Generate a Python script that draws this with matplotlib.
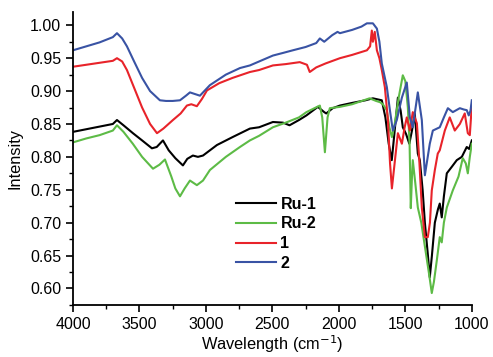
import matplotlib
matplotlib.use("Agg")
import matplotlib.pyplot as plt
from matplotlib.ticker import MultipleLocator, FormatStrFormatter

plt.rcParams['font.family'] = ['Liberation Sans', 'DejaVu Sans']

# IR spectra (wavenumber, intensity)
ru1_x = [4000, 3900, 3800, 3700, 3669, 3620, 3549, 3480, 3406, 3370, 3323, 3280, 3230,
         3173, 3140, 3098, 3060, 3022, 2917, 2800, 2669, 2600, 2496, 2420, 2371, 2300,
         2244, 2158, 2110, 2095, 2046, 1992, 1900, 1800, 1744, 1700, 1677, 1650, 1625,
         1602, 1580, 1556, 1535, 1519, 1495, 1470, 1450, 1429, 1406, 1391, 1370, 1353,
         1330, 1316, 1300, 1278, 1255, 1241, 1226, 1210, 1188, 1150, 1113, 1075, 1038,
         1020, 1000]
ru1_y = [0.838, 0.842, 0.846, 0.850, 0.856, 0.848, 0.836, 0.825, 0.813, 0.815, 0.825, 0.810, 0.798,
         0.787, 0.797, 0.802, 0.800, 0.802, 0.818, 0.830, 0.843, 0.845, 0.853, 0.852, 0.848, 0.856,
         0.863, 0.876, 0.868, 0.866, 0.874, 0.878, 0.882, 0.886, 0.889, 0.887, 0.886, 0.860, 0.820,
         0.795, 0.840, 0.890, 0.870, 0.845, 0.835, 0.820, 0.840, 0.866, 0.805, 0.795, 0.750, 0.700,
         0.650, 0.617, 0.650, 0.700, 0.720, 0.729, 0.708, 0.740, 0.775, 0.785, 0.795, 0.800, 0.815,
         0.812, 0.825]

ru2_x = [4000, 3900, 3800, 3700, 3669, 3620, 3550, 3480, 3398, 3350, 3308, 3260, 3230,
         3195, 3160, 3120, 3068, 3022, 2970, 2850, 2744, 2669, 2600, 2496, 2400, 2300,
         2244, 2143, 2125, 2105, 2085, 2068, 1992, 1900, 1769, 1720, 1689, 1669, 1640,
         1620, 1601, 1580, 1550, 1519, 1500, 1481, 1468, 1459, 1450, 1444, 1425, 1406,
         1380, 1350, 1320, 1301, 1285, 1263, 1241, 1226, 1210, 1188, 1143, 1100, 1068,
         1045, 1030, 1015, 1000]
ru2_y = [0.822, 0.828, 0.833, 0.840, 0.848, 0.838, 0.820, 0.800, 0.782, 0.788, 0.796, 0.770, 0.752,
         0.740, 0.752, 0.764, 0.757, 0.764, 0.780, 0.800, 0.815, 0.825, 0.832, 0.845, 0.852, 0.860,
         0.868, 0.878, 0.860, 0.807, 0.860, 0.874, 0.876, 0.880, 0.889, 0.885, 0.883, 0.880, 0.871,
         0.845, 0.830, 0.850, 0.890, 0.924, 0.915, 0.875, 0.820, 0.722, 0.770, 0.795, 0.760, 0.723,
         0.700, 0.660, 0.620, 0.593, 0.610, 0.643, 0.678, 0.670, 0.700, 0.723, 0.749, 0.770, 0.798,
         0.790, 0.775, 0.800, 0.820]

s1_x = [4000, 3900, 3800, 3700, 3669, 3630, 3594, 3540, 3480, 3420, 3368, 3320, 3248,
        3190, 3143, 3110, 3068, 3030, 2992, 2900, 2800, 2669, 2600, 2496, 2400, 2294,
        2240, 2219, 2170, 2100, 1992, 1900, 1789, 1765, 1752, 1744, 1730, 1714, 1695,
        1677, 1654, 1631, 1615, 1601, 1578, 1556, 1526, 1505, 1489, 1466, 1444, 1413,
        1395, 1376, 1353, 1331, 1315, 1301, 1278, 1256, 1241, 1203, 1166, 1128, 1090,
        1053, 1030, 1015, 1000]
s1_y = [0.937, 0.940, 0.943, 0.946, 0.950, 0.945, 0.932, 0.905, 0.875, 0.850, 0.836, 0.843, 0.856,
        0.866, 0.878, 0.880, 0.877, 0.888, 0.901, 0.912, 0.920, 0.929, 0.932, 0.939, 0.941, 0.944,
        0.940, 0.929, 0.936, 0.942, 0.950, 0.955, 0.962, 0.968, 0.992, 0.975, 0.990, 0.962, 0.950,
        0.932, 0.906, 0.856, 0.790, 0.752, 0.795, 0.836, 0.820, 0.845, 0.860, 0.840, 0.868, 0.851,
        0.795, 0.723, 0.678, 0.678, 0.700, 0.749, 0.780, 0.805, 0.810, 0.840, 0.860, 0.840, 0.850,
        0.866, 0.836, 0.833, 0.878]

s2_x = [4000, 3900, 3800, 3750, 3700, 3669, 3630, 3594, 3540, 3480, 3420, 3346, 3300,
        3250, 3195, 3150, 3120, 3045, 2970, 2850, 2744, 2669, 2600, 2496, 2420, 2346,
        2250, 2170, 2143, 2110, 2050, 2010, 1992, 1900, 1830, 1789, 1744, 1714, 1695,
        1677, 1639, 1616, 1594, 1564, 1526, 1489, 1466, 1444, 1406, 1376, 1353, 1316,
        1293, 1241, 1210, 1180, 1143, 1090, 1060, 1038, 1023, 1010, 1000]
s2_y = [0.962, 0.968, 0.974, 0.978, 0.982, 0.988, 0.980, 0.968, 0.945, 0.920, 0.900, 0.886, 0.885,
        0.885, 0.886, 0.893, 0.898, 0.893, 0.909, 0.925, 0.935, 0.939, 0.945, 0.954, 0.958, 0.962,
        0.967, 0.973, 0.980, 0.975, 0.985, 0.990, 0.988, 0.993, 0.998, 1.003, 1.003, 0.995, 0.975,
        0.942, 0.906, 0.871, 0.840, 0.856, 0.890, 0.913, 0.860, 0.845, 0.898, 0.856, 0.772, 0.820,
        0.840, 0.845, 0.860, 0.874, 0.868, 0.874, 0.872, 0.871, 0.863, 0.870, 0.886]

labels = ['Ru-1', 'Ru-2', '1', '2']
colors = ['#000000', '#5DBB46', '#E8232A', '#3953A4']

fig = plt.figure(figsize=(4.93, 3.57), dpi=100)
ax = fig.add_axes([0.148, 0.146, 0.809, 0.82])

for xs, ys, lab, col in zip([ru1_x, ru2_x, s1_x, s2_x], [ru1_y, ru2_y, s1_y, s2_y], labels, colors):
    ax.plot(xs, ys, color=col, lw=1.5, label=lab)

ax.set_xlim(4000, 1000)
ax.set_ylim(0.575, 1.02)
ax.xaxis.set_major_locator(MultipleLocator(500))
ax.xaxis.set_minor_locator(MultipleLocator(250))
ax.yaxis.set_major_locator(MultipleLocator(0.05))
ax.yaxis.set_minor_locator(MultipleLocator(0.025))
ax.yaxis.set_major_formatter(FormatStrFormatter('%.2f'))

for side in ['top', 'right']:
    ax.spines[side].set_visible(False)
for side in ['left', 'bottom']:
    ax.spines[side].set_linewidth(1.3)
ax.tick_params(which='major', direction='out', length=5, width=1.2, labelsize=11.5)
ax.tick_params(axis='x', which='major', pad=4)
ax.tick_params(which='minor', direction='out', length=3, width=1.0)

ax.set_xlabel('Wavelength (cm$^{-1}$)', fontsize=11.8, labelpad=1)
ax.set_ylabel('Intensity', fontsize=11.8, labelpad=5)

ax.legend(loc='upper left', bbox_to_anchor=(0.392, 0.392), frameon=False,
          handlelength=2.5, labelspacing=0.3, handletextpad=0.3,
          borderaxespad=0, prop={'weight': 'bold', 'size': 11.5})

fig.savefig('out.png', dpi=100)
